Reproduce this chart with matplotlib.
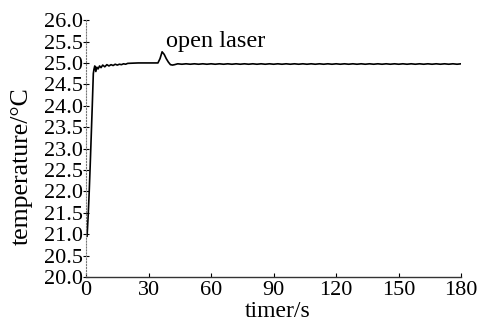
import matplotlib
matplotlib.use('Agg')
import matplotlib.pyplot as plt

# temperatura po włączeniu lasera (odczyt z wykresu)
time_s = [0.5, 1.0, 1.5, 2.0, 2.5, 3.0, 3.5, 3.8, 4.2, 4.7, 5.2, 5.8, 6.5, 7.2,
          8.0, 9.0, 10, 11, 12, 13, 14, 15, 16, 17, 18, 19, 20, 25, 30, 34.5,
          35.5, 36.5, 37.5, 38.5, 39.5, 40.5, 41.5, 42.5,
          44, 46, 48, 50, 52, 54, 56, 58, 60, 62, 64, 66, 68, 70, 72, 74, 76,
          78, 80, 82, 84, 86, 88, 90, 92, 94, 96, 98, 100, 102, 104, 106, 108,
          110, 112, 114, 116, 118, 120, 122, 124, 126, 128, 130, 132, 134, 136,
          138, 140, 142, 144, 146, 148, 150, 152, 154, 156, 158, 160, 162, 164,
          166, 168, 170, 172, 174, 176, 178, 180]
temp_c = [20.95, 21.4, 21.95, 22.6, 23.3, 24.0, 24.75, 24.85, 24.93, 24.8,
          24.9, 24.86, 24.93, 24.89, 24.95, 24.91, 24.96, 24.93, 24.96, 24.94,
          24.97, 24.95, 24.97, 24.96, 24.98, 24.97, 24.99, 25.0, 25.0, 25.0,
          25.1, 25.26, 25.2, 25.1, 25.02, 24.96, 24.95, 24.96,
          24.98, 24.97, 24.98, 24.97, 24.98, 24.97, 24.98, 24.97, 24.98, 24.97,
          24.98, 24.97, 24.98, 24.97, 24.98, 24.97, 24.98, 24.97, 24.98, 24.97,
          24.98, 24.97, 24.98, 24.97, 24.98, 24.97, 24.98, 24.97, 24.98, 24.97,
          24.98, 24.97, 24.98, 24.97, 24.98, 24.97, 24.98, 24.97, 24.98, 24.97,
          24.98, 24.97, 24.98, 24.97, 24.98, 24.97, 24.98, 24.97, 24.98, 24.97,
          24.98, 24.97, 24.98, 24.97, 24.98, 24.97, 24.98, 24.97, 24.98, 24.97,
          24.98, 24.97, 24.98, 24.97, 24.98, 24.97, 24.98, 24.97, 24.98]

x_ticks = [0, 30, 60, 90, 120, 150, 180]
y_ticks = [20.0, 20.5, 21.0, 21.5, 22.0, 22.5, 23.0, 23.5, 24.0, 24.5, 25.0,
           25.5, 26.0]

plt.rcParams['font.family'] = ['Liberation Serif', 'DejaVu Serif']

fig = plt.figure(figsize=(4.86, 3.25), dpi=100)
ax = fig.add_axes([0.177, 0.148, 0.772, 0.790])

ax.plot(time_s, temp_c, color='black', lw=1.2)

ax.set_xlim(0, 180)
ax.set_ylim(20, 26)
ax.set_xticks(x_ticks)
ax.set_yticks(y_ticks)
ax.set_yticklabels([f"{v:.1f}" for v in y_ticks])

ax.spines['top'].set_visible(False)
ax.spines['right'].set_visible(False)
ax.spines['left'].set_linestyle(':')
ax.spines['left'].set_color('#777777')
ax.spines['left'].set_linewidth(0.8)
ax.spines['bottom'].set_color('#333333')
ax.spines['bottom'].set_linewidth(1.0)

ax.tick_params(axis='x', labelsize=16, direction='in', length=3,
               width=0.8, pad=3)
ax.tick_params(axis='y', labelsize=16, direction='inout', length=4,
               width=0.8, pad=0)

ax.set_xlabel('timer/s', fontsize=17)
ax.xaxis.set_label_coords(0.51, -0.092)
ax.set_ylabel('temperature/°C', fontsize=18.5)
ax.yaxis.set_label_coords(-0.171, 0.43)
ax.yaxis.label.set_va('center')

ax.text(38.3, 25.5, 'open laser', fontsize=17.5, va='center', ha='left')

fig.savefig('out.png', dpi=100)
